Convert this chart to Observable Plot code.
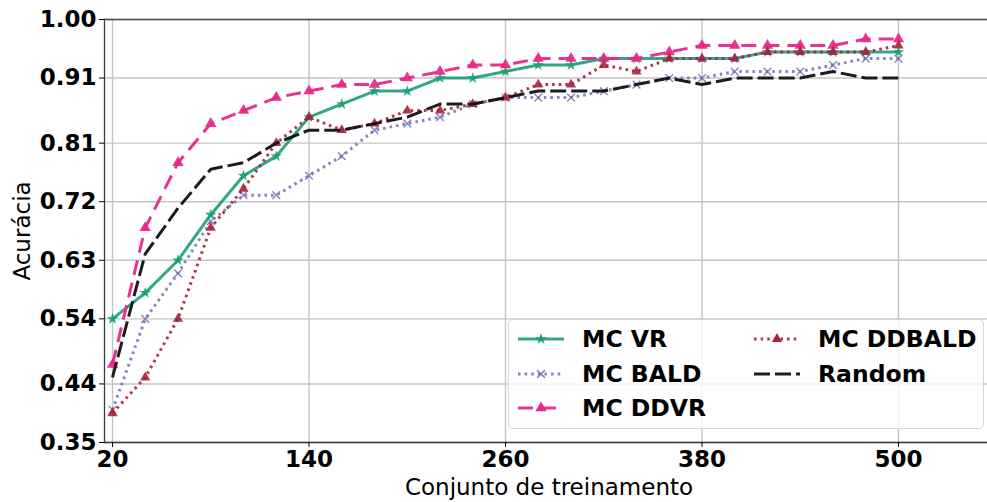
<!DOCTYPE html>
<html>
<head>
<meta charset="utf-8">
<script src="https://cdn.jsdelivr.net/npm/d3@7"></script>
<script src="https://cdn.jsdelivr.net/npm/@observablehq/plot@0.6"></script>
<style>
  html, body { margin: 0; padding: 0; background: #fff; }
  #wrap { position: relative; width: 987px; height: 502px; font-family: "DejaVu Sans", sans-serif; }
  #legend { position: absolute; left: 508px; top: 319px; width: 476px; height: 110px;
    border: 1px solid #d6d6d6; border-radius: 5px; background: rgba(255,255,255,0.8); box-sizing: border-box; }
  .item { position: absolute; height: 30px; display: flex; align-items: center; }
  .item svg { display: block; }
  .item span { font-weight: bold; font-size: 23.5px; color: #000; margin-left: 17px; white-space: nowrap; }
</style>
</head>
<body>
<div id="wrap"><div id="legend"></div></div>
<script>
const xs = [20, 40, 60, 80, 100, 120, 140, 160, 180, 200, 220, 240, 260, 280, 300, 320, 340, 360, 380, 400, 420, 440, 460, 480, 500];
const mcVR     = [0.54, 0.58, 0.63, 0.70, 0.76, 0.79, 0.85, 0.87, 0.89, 0.89, 0.91, 0.91, 0.92, 0.93, 0.93, 0.94, 0.94, 0.94, 0.94, 0.94, 0.95, 0.95, 0.95, 0.95, 0.95];
const mcBALD   = [0.40, 0.54, 0.61, 0.69, 0.73, 0.73, 0.76, 0.79, 0.83, 0.84, 0.85, 0.87, 0.88, 0.88, 0.88, 0.89, 0.90, 0.91, 0.91, 0.92, 0.92, 0.92, 0.93, 0.94, 0.94];
const mcDDVR   = [0.47, 0.68, 0.78, 0.84, 0.86, 0.88, 0.89, 0.90, 0.90, 0.91, 0.92, 0.93, 0.93, 0.94, 0.94, 0.94, 0.94, 0.95, 0.96, 0.96, 0.96, 0.96, 0.96, 0.97, 0.97];
const mcDDBALD = [0.395, 0.45, 0.54, 0.68, 0.74, 0.81, 0.85, 0.83, 0.84, 0.86, 0.86, 0.87, 0.88, 0.90, 0.90, 0.93, 0.92, 0.94, 0.94, 0.94, 0.95, 0.95, 0.95, 0.95, 0.96];
const random   = [0.45, 0.64, 0.71, 0.77, 0.78, 0.81, 0.83, 0.83, 0.84, 0.85, 0.87, 0.87, 0.88, 0.89, 0.89, 0.89, 0.90, 0.91, 0.90, 0.91, 0.91, 0.91, 0.92, 0.91, 0.91];
const xTicks = [20, 140, 260, 380, 500];
const yTicks = [0.35, 0.44, 0.54, 0.63, 0.72, 0.81, 0.91, 1.00];
const xLabel = "Conjunto de treinamento";
const yLabel = "Acurácia";

const series = [
  {name: "MC VR", values: mcVR, color: "#1b9e77", opacity: 0.9, dash: null, symbol: "star", r: 3.6, filled: true},
  {name: "MC BALD", values: mcBALD, color: "#7570b3", opacity: 0.85, dash: "2.6,4", symbol: "times", r: 3.6, filled: false},
  {name: "MC DDVR", values: mcDDVR, color: "#e7298a", opacity: 0.95, dash: "15,8", symbol: "triangle", r: 4.2, filled: true},
  {name: "MC DDBALD", values: mcDDBALD, color: "#a6243c", opacity: 0.9, dash: "2.6,4", symbol: "triangle", r: 3.8, filled: true},
  {name: "Random", values: random, color: "#111111", opacity: 0.95, dash: "16,5", symbol: null, r: 0, filled: false}
];

const marks = [
  Plot.gridX(xTicks, {stroke: "#c4c4c4", strokeOpacity: 1, strokeWidth: 1.4}),
  Plot.gridY(yTicks, {stroke: "#c4c4c4", strokeOpacity: 1, strokeWidth: 1.4}),
  Plot.frame({anchor: "left", stroke: "#3a3a3a", strokeWidth: 1.3}),
  Plot.frame({anchor: "top", stroke: "#4a4a4a", strokeWidth: 1.3}),
  Plot.frame({anchor: "bottom", stroke: "#3a3a3a", strokeWidth: 1.3}),
  Plot.axisX(xTicks, {tickSize: 5, tickPadding: 3, tickFormat: d => String(d), label: null, fontSize: 23, fontWeight: "bold"}),
  Plot.axisY(yTicks, {tickSize: 5, tickPadding: 3, tickFormat: d => d.toFixed(2), label: null, fontSize: 23, fontWeight: "bold"}),
  Plot.text([xLabel], {frameAnchor: "bottom", dy: 45, dx: 3, fontSize: 23, fontWeight: "normal", lineAnchor: "middle", textAnchor: "middle"}),
  Plot.text([yLabel], {frameAnchor: "left", dx: -82, rotate: -90, fontSize: 23, fontWeight: "normal", textAnchor: "middle", lineAnchor: "middle"})
];

for (const s of series) {
  const rows = xs.map((x, i) => ({x, y: s.values[i]}));
  marks.push(Plot.line(rows, {x: "x", y: "y", stroke: s.color, strokeOpacity: s.opacity, strokeWidth: 3,
    strokeDasharray: s.dash || undefined, strokeLinecap: "butt"}));
  if (s.symbol) {
    marks.push(Plot.dot(rows, {x: "x", y: "y", symbol: s.symbol, r: s.r,
      fill: s.filled ? s.color : "none", stroke: s.filled ? null : s.color, strokeWidth: 1.4,
      fillOpacity: s.opacity, strokeOpacity: s.opacity}));
  }
}

const chart = Plot.plot({
  width: 987,
  height: 502,
  marginLeft: 104,
  marginRight: 0,
  marginTop: 19,
  marginBottom: 60,
  style: {fontFamily: "DejaVu Sans, sans-serif", color: "#000", background: "transparent", overflow: "visible"},
  x: {domain: [15.11, 554.35], axis: null},
  y: {domain: [0.35, 1.0], axis: null},
  marks
});
document.getElementById("wrap").prepend(chart);

// legend
const legend = document.getElementById("legend");
const pos = [
  {left: 8, top: 4}, {left: 8, top: 39}, {left: 8, top: 73},
  {left: 244, top: 4}, {left: 244, top: 39}
];
const legendOrder = ["MC VR", "MC BALD", "MC DDVR", "MC DDBALD", "Random"];
legendOrder.forEach((name, i) => {
  const s = series.find(d => d.name === name);
  const item = document.createElement("div");
  item.className = "item";
  item.style.left = pos[i].left + "px";
  item.style.top = pos[i].top + "px";
  const svg = d3.create("svg").attr("width", 48).attr("height", 20);
  svg.append("line").attr("x1", 1).attr("x2", 47).attr("y1", 10).attr("y2", 10)
    .attr("stroke", s.color).attr("stroke-opacity", s.opacity).attr("stroke-width", 3)
    .attr("stroke-dasharray", s.dash);
  if (s.symbol) {
    const symMap = {star: d3.symbolStar, triangle: d3.symbolTriangle, times: d3.symbolTimes};
    svg.append("path").attr("transform", "translate(24,10)")
      .attr("d", d3.symbol(symMap[s.symbol], Math.PI * s.r * s.r)())
      .attr("fill", s.filled ? s.color : "none")
      .attr("stroke", s.filled ? "none" : s.color)
      .attr("stroke-width", 1.4);
  }
  item.appendChild(svg.node());
  const span = document.createElement("span");
  span.textContent = name;
  item.appendChild(span);
  legend.appendChild(item);
});
</script>
</body>
</html>
